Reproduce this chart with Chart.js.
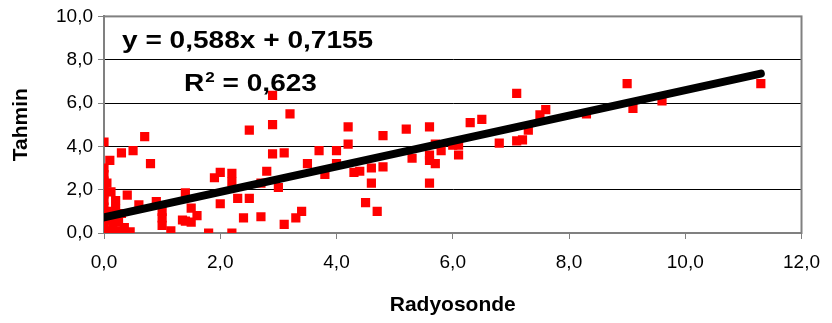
<!DOCTYPE html>
<html>
<head>
<meta charset="utf-8">
<script src="https://cdn.jsdelivr.net/npm/chart.js@4.4.1/dist/chart.umd.min.js"></script>
<style>
  body { margin: 0; background: #fff; }
  #wrap { width: 832px; height: 323px; }
</style>
</head>
<body>
<div id="wrap"><canvas id="scatterChart" width="832" height="323"></canvas></div>
<script>
// Radyosonde (x) vs Tahmin (y)
var radyosonde = [
  0.0, 0.0, 0.0, 0.0, 0.0, 0.1, 0.3, 0.5, 0.7, 0.8,
  0.05, 0.12, 0.2, 0.4, 0.6, 0.9, 0.3, 0.35, 0.2, 0.45,
  0.0, 0.0, 0.0, 0.0, 0.0, 0.0, 0.0, 0.05, 0.1, 0.15, 0.25, 0.1, 0.3, 0.2,
  1.0, 1.0, 1.0, 1.15, 1.35, 1.4, 1.5, 1.6, 1.4, 1.5,
  1.8, 2.2, 2.0, 1.9, 2.0, 2.2, 2.2, 2.3, 2.5, 2.4, 2.7, 2.7, 2.8, 3.0,
  2.5, 2.9, 2.9, 2.9, 3.1, 3.2, 3.1, 3.3, 3.4,
  3.5, 3.7, 3.8, 4.0, 4.0, 4.2, 4.2, 4.3, 4.4, 4.6, 4.6, 4.5, 4.7, 4.8, 4.8, 5.2, 5.3,
  5.6, 5.6, 5.6, 5.6, 5.7, 5.7, 5.8, 6.0, 6.1, 6.1, 6.3, 6.5, 6.8, 7.1, 7.2, 7.1, 7.3, 7.5, 7.6,
  8.3, 9.0, 9.1, 9.6, 11.3
];
var tahmin = [
  4.2, 3.0, 2.7, 2.4, 2.1, 3.35, 3.7, 3.8, 4.45, 3.2,
  2.3, 1.9, 1.5, 1.75, 1.3, 1.45, 0.9, 0.25, 0.05, 0.05,
  1.8, 1.5, 1.2, 0.9, 0.6, 0.3, 0.05, 1.0, 0.6, 0.3, 0.5, 0.1, 0.1, 1.1,
  1.0, 0.7, 0.35, 0.1, 0.6, 1.85, 1.15, 0.8, 0.55, 0.5,
  0.0, 0.0, 1.35, 2.55, 2.8, 2.75, 2.35, 1.6, 1.6, 0.7, 0.75, 2.3, 2.85, 2.1,
  4.75, 6.35, 5.0, 3.65, 3.7, 5.5, 0.4, 0.7, 1.0,
  3.2, 3.8, 2.7, 3.8, 3.2, 4.9, 4.1, 2.8, 2.85, 3.0, 2.3, 1.4, 1.0, 3.05, 4.5, 4.8, 3.45,
  4.9, 3.6, 3.35, 2.3, 4.1, 3.2, 3.8, 4.05, 4.05, 3.6, 5.1, 5.25, 4.15, 4.25, 4.3, 6.45, 4.75, 5.45, 5.7,
  5.5, 6.9, 5.75, 6.1, 6.9
];

// linear trend line end points
var trendX = [0, 11.3];
var trendY = [0.72, 7.36];

var xTickValues = [0, 2, 4, 6, 8, 10, 12];
var yTickValues = [0, 2, 4, 6, 8, 10];

var equationText = 'y = 0,588x + 0,7155';
var r2Text = ['R', '2', ' = 0,623'];

function fmt(v) {
  return v.toFixed(1).replace('.', ',');
}

Chart.defaults.font.family = "'Liberation Sans', Arial, sans-serif";
Chart.defaults.color = '#000';

// grey frame round the plot area
var frame = {
  id: 'frame',
  beforeDatasetsDraw: function(chart) {
    var a = chart.chartArea, ctx = chart.ctx;
    ctx.save();
    ctx.strokeStyle = '#808080';
    ctx.lineWidth = 2;
    ctx.strokeRect(a.left, a.top, a.right - a.left, a.bottom - a.top);
    ctx.restore();
  }
};

// equation and R² text
function wideText(ctx, text, x, y, sx) {
  ctx.save();
  ctx.translate(x, y);
  ctx.scale(sx, 1);
  ctx.fillText(text, 0, 0);
  ctx.restore();
  return ctx.measureText(text).width * sx;
}

var labels = {
  id: 'labels',
  afterDraw: function(chart) {
    var ctx = chart.ctx;
    var sx = 1.22;
    ctx.save();
    ctx.fillStyle = '#000';
    ctx.textBaseline = 'alphabetic';
    ctx.font = "bold 23px 'Liberation Sans', Arial, sans-serif";
    wideText(ctx, equationText, 122, 48, sx);
    var x = 184;
    x += wideText(ctx, r2Text[0], x, 91, sx);
    ctx.font = "bold 14px 'Liberation Sans', Arial, sans-serif";
    x += wideText(ctx, r2Text[1], x + 1, 82, sx) + 1;
    ctx.font = "bold 23px 'Liberation Sans', Arial, sans-serif";
    wideText(ctx, r2Text[2], x, 91, sx);
    ctx.restore();
  }
};

var points = radyosonde.map(function(v, i) {
  return { x: v, y: tahmin[i] };
});
var trendPoints = trendX.map(function(v, i) {
  return { x: v, y: trendY[i] };
});

new Chart(document.getElementById('scatterChart').getContext('2d'), {
  type: 'scatter',
  data: {
    datasets: [{
      type: 'line',
      data: trendPoints,
      borderColor: '#000',
      borderWidth: 8,
      borderCapStyle: 'round',
      pointRadius: 0,
      fill: false,
      order: 0
    }, {
      data: points,
      backgroundColor: '#ff0000',
      borderWidth: 0,
      pointStyle: 'rect',
      pointRadius: 6.5,
      order: 1
    }]
  },
  options: {
    responsive: false,
    animation: false,
    events: [],
    layout: { padding: { top: 16, right: 26, bottom: 0, left: 0 } },
    plugins: { legend: { display: false }, tooltip: { enabled: false } },
    scales: {
      x: {
        type: 'linear',
        min: 0,
        max: 12,
        afterBuildTicks: function(scale) {
          scale.ticks = xTickValues.map(function(v) { return { value: v }; });
        },
        afterFit: function(scale) { scale.height = 90; },
        grid: { color: 'rgba(0,0,0,0)', tickColor: '#808080', tickLength: 6, lineWidth: 1 },
        border: { display: true, color: '#808080', width: 2 },
        ticks: {
          font: { size: 19 },
          padding: 12,
          maxRotation: 0,
          callback: function(v) { return fmt(v); }
        },
        title: {
          display: true,
          text: 'Radyosonde',
          font: { size: 21, weight: 'bold' },
          padding: { top: 0, bottom: 5 }
        }
      },
      y: {
        min: 0,
        max: 10,
        afterBuildTicks: function(scale) {
          scale.ticks = yTickValues.map(function(v) { return { value: v }; });
        },
        afterFit: function(scale) { scale.width = 104; },
        grid: {
          color: function(c) {
            var v = c.tick && c.tick.value;
            return (v === 0 || v === 10) ? 'rgba(0,0,0,0)' : '#000';
          },
          tickColor: '#808080',
          tickLength: 6,
          lineWidth: 1
        },
        border: { display: true, color: '#808080', width: 2 },
        ticks: {
          font: { size: 19 },
          padding: 5,
          callback: function(v) { return fmt(v); }
        },
        title: {
          display: true,
          text: 'Tahmin',
          font: { size: 21, weight: 'bold' },
          padding: { top: 9, bottom: 0 }
        }
      }
    }
  },
  plugins: [frame, labels]
});
</script>
</body>
</html>
